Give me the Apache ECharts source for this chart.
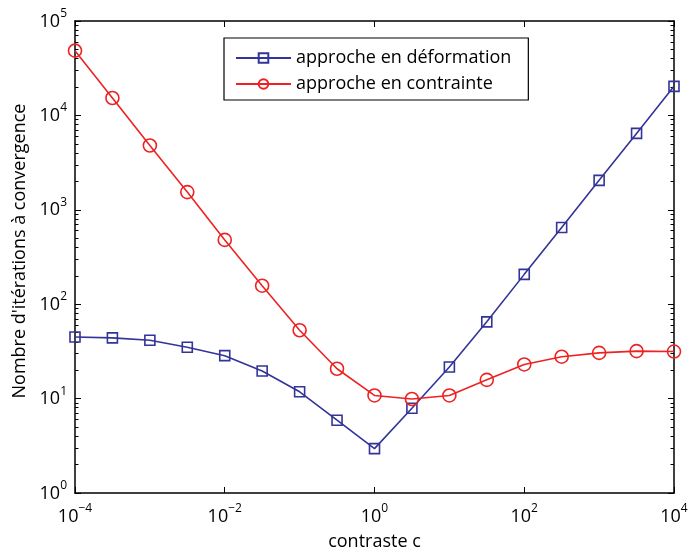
<!DOCTYPE html>
<html>
<head>
<meta charset="utf-8">
<script src="https://cdn.jsdelivr.net/npm/echarts@6/dist/echarts.min.js"></script>
<style>html,body{margin:0;padding:0;background:#fff}#c{width:690px;height:554px}</style>
</head>
<body>
<div id="c"></div>
<script>
// contrast values c = 10^(-4 + k/2)
const contrast = [1e-4, 3.16e-4, 1e-3, 3.16e-3, 1e-2, 3.16e-2, 1e-1, 3.16e-1, 1, 3.16, 10, 31.6, 100, 316, 1000, 3162, 10000];
const deformation = [45, 44, 41.5, 35, 28.5, 19.6, 11.8, 5.9, 2.95, 7.9, 21.6, 65, 207, 650, 2050, 6450, 20300];
const contrainte = [48500, 15300, 4800, 1540, 480, 157, 53, 20.7, 10.8, 9.9, 10.8, 15.8, 23, 27.8, 30.5, 31.8, 31.5];
const seriesNames = ['approche en déformation', 'approche en contrainte'];
const xTitle = 'contraste c';
const yTitle = "Nombre d'itérations à convergence";
const xMajor = [1e-4, 1e-2, 1, 1e2, 1e4];
const yMajor = [1, 10, 100, 1000, 10000, 100000];
const yMinor = [];
for (let d = 0; d < 5; d++) for (let m = 2; m <= 9; m++) yMinor.push(m * Math.pow(10, d));

const FONT = 'Open Sans';
const BLUE = '#333399';
const RED = '#ee2222';
function sup(v) {
  const e = Math.round(Math.log10(v));
  return '{b|10}{s|' + (e < 0 ? '\u2212' + (-e) : e) + '}';
}
const rich = {
  b: {fontSize: 18, fontFamily: FONT, color: '#000', lineHeight: 18, verticalAlign: 'bottom'},
  s: {fontSize: 12, fontFamily: FONT, color: '#000', lineHeight: 12, verticalAlign: 'bottom', padding: [0, 0, 11, 0]}
};
const axisLine = {show: true, onZero: false, lineStyle: {color: '#000', width: 1.5}};
function xAx(pos, labels) {
  return {
    type: 'log', logBase: 10, min: 1e-4, max: 1e4, position: pos,
    axisLine: axisLine, splitLine: {show: false},
    axisTick: {show: true, inside: true, length: 6, customValues: xMajor, lineStyle: {color: '#000', width: 1}},
    axisLabel: {show: labels, customValues: xMajor, formatter: sup, rich: rich, margin: 15},
    name: labels ? xTitle : '', nameLocation: 'middle', nameGap: 40,
    nameTextStyle: {fontFamily: FONT, fontSize: 18, color: '#000'}
  };
}
function yAx(pos, labels, minor) {
  return {
    type: 'log', logBase: 10, min: 1, max: 1e5, position: pos,
    axisLine: minor ? {show: false} : axisLine, splitLine: {show: false},
    axisTick: {show: true, inside: true, length: minor ? 3.5 : 6, customValues: minor ? yMinor : yMajor, lineStyle: {color: '#000', width: 1}},
    axisLabel: {show: labels, customValues: yMajor, formatter: sup, rich: rich, margin: 8, padding: [1, 0, 0, 0]},
    name: labels ? yTitle : '', nameLocation: 'middle', nameGap: 45,
    nameTextStyle: {fontFamily: FONT, fontSize: 18, color: '#000', padding: [0, 0, 0, 12]}
  };
}
const chart = echarts.init(document.getElementById('c'));
chart.setOption({
  animation: false,
  backgroundColor: '#fff',
  grid: {left: 75, right: 16, top: 21, bottom: 61, containLabel: false, outerBoundsMode: 'none'},
  xAxis: [xAx('bottom', true), xAx('top', false)],
  yAxis: [yAx('left', true, false), yAx('left', false, true), yAx('right', false, false), yAx('right', false, true)],
  legend: {
    orient: 'vertical', left: 224, top: 38, padding: [11, 17, 7, 11], itemGap: 8,
    itemWidth: 55, itemHeight: 12,
    borderColor: '#000', borderWidth: 1.2, borderRadius: 0, backgroundColor: '#fff',
    textStyle: {fontFamily: FONT, fontSize: 18, color: '#000'},
    data: seriesNames
  },
  series: [
    {
      name: seriesNames[0], type: 'line', xAxisIndex: 0, yAxisIndex: 0,
      data: contrast.map((c, i) => [c, deformation[i]]),
      symbol: 'rect', symbolSize: 10, color: BLUE,
      lineStyle: {color: BLUE, width: 1.6},
      itemStyle: {color: 'rgba(255,255,255,0)', borderColor: BLUE, borderWidth: 1.6}
    },
    {
      name: seriesNames[1], type: 'line', xAxisIndex: 0, yAxisIndex: 0,
      data: contrast.map((c, i) => [c, contrainte[i]]),
      symbol: 'circle', symbolSize: 13, color: RED,
      lineStyle: {color: RED, width: 1.6},
      itemStyle: {color: 'rgba(255,255,255,0)', borderColor: RED, borderWidth: 1.6}
    }
  ]
});
</script>
</body>
</html>
